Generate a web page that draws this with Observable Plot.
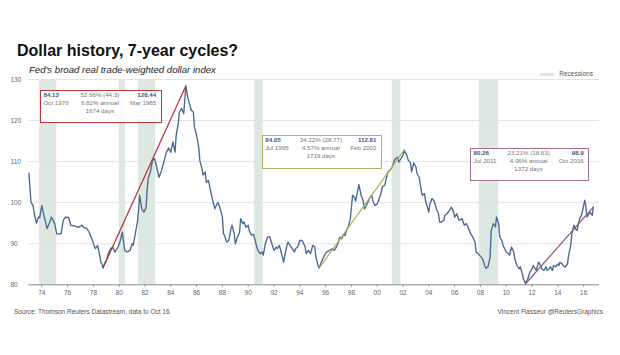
<!DOCTYPE html>
<html><head><meta charset="utf-8">
<script src="https://cdn.jsdelivr.net/npm/d3@7"></script>
<script src="https://cdn.jsdelivr.net/npm/@observablehq/plot@0.6"></script>
<style>
body{margin:0;background:#fff;font-family:"Liberation Sans",Arial,sans-serif;}
#wrap{position:relative;width:620px;height:355px;overflow:hidden;background:#fff;}
#chart{position:absolute;left:0;top:0;}
.t{position:absolute;white-space:nowrap;line-height:1;}
#title{left:17px;top:43.2px;font-size:16px;font-weight:bold;color:#111;}
#subtitle{left:29px;top:65.2px;font-size:9.6px;font-style:italic;color:#222;}
#source{left:14px;top:308.5px;font-size:6.5px;color:#555;}
#credit{right:17px;top:308.5px;font-size:6.5px;color:#555;}
#legsw{position:absolute;left:540px;top:72.5px;width:14px;height:3.5px;background:#dde8e2;}
#legtx{left:559.3px;top:70.8px;font-size:6.5px;color:#555;}
.box{position:absolute;box-sizing:border-box;background:rgba(255,255,255,0.9);}
.row{position:absolute;left:2.5px;right:4.5px;height:8.2px;font-size:6.2px;line-height:8.2px;color:#777;white-space:nowrap;}
.row span{position:absolute;top:0;}
.l{left:0;} .r{right:0;} .c{left:0;right:0;text-align:center;}
.b{font-weight:bold;color:#42557a;}
</style></head><body>
<div id="wrap">
  <div id="chart"></div>
  <div class="t" id="title">Dollar history, 7-year cycles?</div>
  <div class="t" id="subtitle">Fed's broad real trade-weighted dollar index</div>
  <div id="legsw"></div>
  <div class="t" id="legtx">Recessions</div>
  <div class="t" id="source">Source: Thomson Reuters Datastream, data to Oct 16</div>
  <div class="t" id="credit">Vincent Flasseur @ReutersGraphics</div>
</div>
<script>
// ---- data ----
const dates = [
"1973-01","1973-02","1973-03","1973-05","1973-06","1973-08","1973-10","1973-11",
"1974-01","1974-03","1974-06","1974-08","1974-10","1975-01","1975-03","1975-07","1975-09","1975-11",
"1976-02","1976-04","1976-08","1976-11","1977-02","1977-04","1977-07","1977-09","1977-11",
"1978-02","1978-03","1978-05","1978-06","1978-08","1978-09","1978-10","1978-12",
"1979-01","1979-03","1979-05","1979-07","1979-09","1979-12",
"1980-02","1980-04","1980-06","1980-08","1980-11",
"1981-01","1981-02","1981-04","1981-06","1981-07","1981-08","1981-10","1981-12",
"1982-02","1982-03","1982-04","1982-06","1982-08","1982-10","1982-12",
"1983-02","1983-04","1983-07","1983-09","1983-11",
"1984-01","1984-03","1984-05","1984-06","1984-08","1984-09","1984-11",
"1985-01","1985-02","1985-03","1985-05","1985-06","1985-08","1985-10","1985-11",
"1986-01","1986-03","1986-04","1986-06","1986-07","1986-09","1986-10","1986-12",
"1987-01","1987-03","1987-04","1987-06","1987-08","1987-09","1987-11",
"1988-01","1988-02","1988-03","1988-05","1988-07","1988-09","1988-10","1988-12",
"1989-01","1989-03","1989-05","1989-06","1989-08","1989-09","1989-11",
"1990-01","1990-02","1990-04","1990-06","1990-07","1990-09","1990-10","1990-12",
"1991-02","1991-03","1991-05","1991-07","1991-09","1991-11",
"1992-01","1992-03","1992-04","1992-06","1992-08","1992-10","1992-11",
"1993-01","1993-02","1993-04","1993-06","1993-08","1993-09","1993-11",
"1994-01","1994-03","1994-04","1994-06","1994-07","1994-09","1994-11",
"1995-01","1995-03","1995-04","1995-06","1995-07","1995-09","1995-12",
"1996-02","1996-05","1996-07","1996-09","1996-11",
"1997-01","1997-02","1997-04","1997-06","1997-07","1997-09","1997-10","1997-12",
"1998-01","1998-02","1998-04","1998-05","1998-07","1998-08","1998-10","1998-12",
"1999-01","1999-03","1999-05","1999-06","1999-08","1999-09","1999-11",
"2000-01","2000-04","2000-06","2000-08","2000-09","2000-11",
"2001-01","2001-03","2001-05","2001-06","2001-08","2001-09","2001-11",
"2002-01","2002-02","2002-04","2002-06","2002-08","2002-09","2002-11",
"2003-01","2003-02","2003-04","2003-06","2003-07","2003-09","2003-10",
"2004-01","2004-02","2004-04","2004-06","2004-08","2004-10","2004-11",
"2005-01","2005-03","2005-04","2005-06","2005-07","2005-09","2005-10","2005-12",
"2006-01","2006-03","2006-05","2006-08","2006-10","2006-12",
"2007-02","2007-04","2007-06","2007-08","2007-09","2007-11",
"2008-03","2008-05","2008-06","2008-08","2008-10","2008-11",
"2009-01","2009-03","2009-04","2009-06","2009-07","2009-09","2009-10",
"2010-01","2010-03","2010-04","2010-06","2010-08","2010-09","2010-11",
"2011-01","2011-02","2011-04","2011-05","2011-06","2011-07","2011-09","2011-11",
"2012-01","2012-02","2012-04","2012-05","2012-07","2012-09","2012-10","2012-12",
"2013-02","2013-03","2013-05","2013-06","2013-08","2013-09","2013-11",
"2014-01","2014-02","2014-03","2014-05","2014-07","2014-08","2014-10","2014-11",
"2015-01","2015-02","2015-04","2015-05","2015-07","2015-08","2015-10","2015-11",
"2016-01","2016-02","2016-03","2016-04","2016-06","2016-07","2016-09","2016-10"
];
const values = [
107.2,103.5,100.1,99.3,97.3,95.0,96.5,96.3,
99.3,96.9,93.7,95.0,96.5,94.9,92.4,92.4,95.7,96.5,
96.4,94.5,94.3,94.0,94.5,94.0,93.7,92.8,91.6,
89.3,88.8,89.6,88.4,85.5,85.1,84.13,85.5,
85.9,87.6,88.8,89.2,88.0,89.2,
90.8,92.8,88.5,88.0,88.3,
90.0,89.6,92.4,95.3,98.1,101.8,98.5,97.7,
98.8,103.0,105.9,107.5,110.3,110.7,108.5,
106.2,107.5,110.3,112.3,113.3,
112.3,114.8,112.3,116.4,119.3,122.1,123.0,
121.7,125.0,128.44,125.4,124.5,122.5,122.1,118.4,
116.4,113.6,110.3,108.3,106.7,107.5,105.0,105.4,
104.2,101.8,100.6,98.5,99.7,100.0,98.5,
96.5,92.4,92.1,90.4,90.8,93.7,94.5,92.4,
90.0,91.6,92.8,96.1,94.9,95.3,94.0,
94.5,93.2,92.1,92.3,91.3,89.2,88.4,87.6,
88.0,87.2,90.0,91.6,91.7,90.0,
88.4,89.2,88.8,89.6,87.6,85.5,87.2,
89.6,90.4,89.6,88.8,88.0,88.8,89.2,
90.8,90.8,90.4,89.2,87.6,88.4,87.6,
89.6,89.2,86.8,84.7,84.05,85.5,87.2,
88.0,88.4,88.8,88.4,89.2,
90.4,91.6,91.2,92.4,92.0,93.7,94.0,96.1,
98.9,101.8,101.2,100.4,103.0,104.4,101.8,100.4,
98.5,99.3,100.4,101.2,101.8,100.4,99.3,
99.7,101.8,104.0,104.2,105.4,107.5,
107.9,108.7,110.3,110.7,111.1,109.9,110.7,
111.5,112.81,111.9,110.3,109.7,107.5,109.7,
108.7,107.1,106.2,103.0,101.8,102.2,100.4,
97.7,99.7,101.0,100.4,98.5,97.3,95.3,
95.3,95.7,96.9,97.3,97.7,98.5,98.9,97.7,
96.5,97.3,95.7,96.1,94.5,94.9,
93.7,92.4,91.6,90.4,88.0,87.6,
86.3,84.7,84.0,84.4,86.7,93.2,
94.9,94.1,96.5,94.9,91.6,90.8,89.6,
88.0,87.6,87.2,89.2,88.0,86.3,84.7,
83.9,84.4,82.7,81.4,81.0,80.26,81.4,83.1,
83.9,84.7,83.9,83.5,85.5,84.7,83.9,83.5,
84.4,83.5,83.9,84.4,83.5,84.7,84.4,
85.1,84.7,85.5,85.1,84.4,84.3,85.1,87.2,
89.6,92.4,94.5,93.7,93.2,94.9,96.5,96.9,
99.3,100.6,99.3,96.5,97.3,97.7,96.9,98.9
];
const recessionStart = ["1973-11","1980-01","1981-07","1990-07","2001-03","2007-12"];
const recessionEnd   = ["1975-03","1980-07","1982-11","1991-03","2001-11","2009-06"];
const yTicks = [80, 90, 100, 110, 120, 130];
const xTickYears = [1974,1976,1978,1980,1982,1984,1986,1988,1990,1992,1994,1996,1998,2000,2002,2004,2006,2008,2010,2012,2014,2016];
const cycleStartDate  = ["1978-10","1995-07","2011-07"];
const cycleEndDate    = ["1985-03","2002-02","2016-10"];
const cycleStartValue = [84.13, 84.05, 80.26];
const cycleEndValue   = [128.44, 112.81, 98.9];
const cycleStartLabel = ["Oct 1978","Jul 1995","Jul 2011"];
const cycleEndLabel   = ["Mar 1985","Feb 2002","Oct 2016"];
const cyclePct    = ["52.66% (44.3)","34.22% (28.77)","23.21% (18.63)"];
const cycleAnnual = ["6.82% annual","4.57% annual","4.06% annual"];
const cycleDays   = ["1674 days","1719 days","1372 days"];

// ---- styles / layout ----
const trendColors = ["#b52f30","#a9b64c","#8e5581"];
const boxColors   = ["#b53a3c","#a8b45e","#a26d90"];
const boxLayout = [
  {left:40, top:89.5, width:121.7, height:33.2},
  {left:261.7, top:134.7, width:120.3, height:34.6},
  {left:470, top:147.7, width:119.3, height:33.6}
];

const parse = d3.utcParse("%Y-%m");
const series = dates.map((d,i)=>({date:parse(d), value:values[i]}));
const recs = recessionStart.map((s,i)=>({x1:parse(s), x2:parse(recessionEnd[i])}));
const xTicks = xTickYears.map(y=>new Date(Date.UTC(y,0,1)));

const trendMarks = cycleStartDate.map((s,i)=>Plot.line(
  [{date:parse(s), value:cycleStartValue[i]},{date:parse(cycleEndDate[i]), value:cycleEndValue[i]}],
  {x:"date", y:"value", stroke:trendColors[i], strokeWidth:1.2}));

const plot = Plot.plot({
  width:620, height:355,
  marginLeft:28.4, marginRight:21, marginTop:79, marginBottom:70.7,
  x:{type:"utc", domain:[new Date(Date.UTC(1973,0,1)), new Date(Date.UTC(2017,2,25))], label:null},
  y:{domain:[80,130], label:null},
  style:{fontFamily:"'Liberation Sans', Arial, sans-serif", fontSize:"6.5px", color:"#666", background:"transparent"},
  marks:[
    Plot.rect(recs, {x1:"x1", x2:"x2", fill:"#dde8e2"}),
    Plot.ruleY(yTicks.slice(1), {stroke:"#e3e3e3", strokeWidth:1}),
    Plot.ruleY([80], {stroke:"#8c8c8c", strokeWidth:1}),
    Plot.axisY({ticks:yTicks, tickSize:0, textAnchor:"start", dx:-9.4, tickFormat:d=>String(d), fill:"#666", label:null}),
    Plot.axisX({ticks:xTicks, tickSize:2.5, tickPadding:3, tickFormat:d3.utcFormat("%y"), stroke:"#8c8c8c", fill:"#666", label:null}),
    Plot.line(series, {x:"date", y:"value", stroke:"#4a6891", strokeWidth:1.35}),
    ...trendMarks
  ]
});
document.getElementById("chart").appendChild(plot);

// annotation boxes
const wrap = document.getElementById("wrap");
boxLayout.forEach((b,i)=>{
  const box = document.createElement("div");
  box.className = "box";
  Object.assign(box.style, {left:b.left+"px", top:b.top+"px", width:b.width+"px", height:b.height+"px", border:"1.4px solid "+boxColors[i]});
  const rows = [
    [String(cycleStartValue[i]), cyclePct[i], String(cycleEndValue[i]), true],
    [cycleStartLabel[i], cycleAnnual[i], cycleEndLabel[i], false],
    ["", cycleDays[i], "", false]
  ];
  rows.forEach((r,k)=>{
    const row = document.createElement("div");
    row.className = "row";
    row.style.top = (0.3 + k*8.2)+"px";
    row.innerHTML = `<span class="l${r[3]?" b":""}">${r[0]}</span><span class="c">${r[1]}</span><span class="r${r[3]?" b":""}">${r[2]}</span>`;
    box.appendChild(row);
  });
  wrap.appendChild(box);
});
</script>
</body></html>
